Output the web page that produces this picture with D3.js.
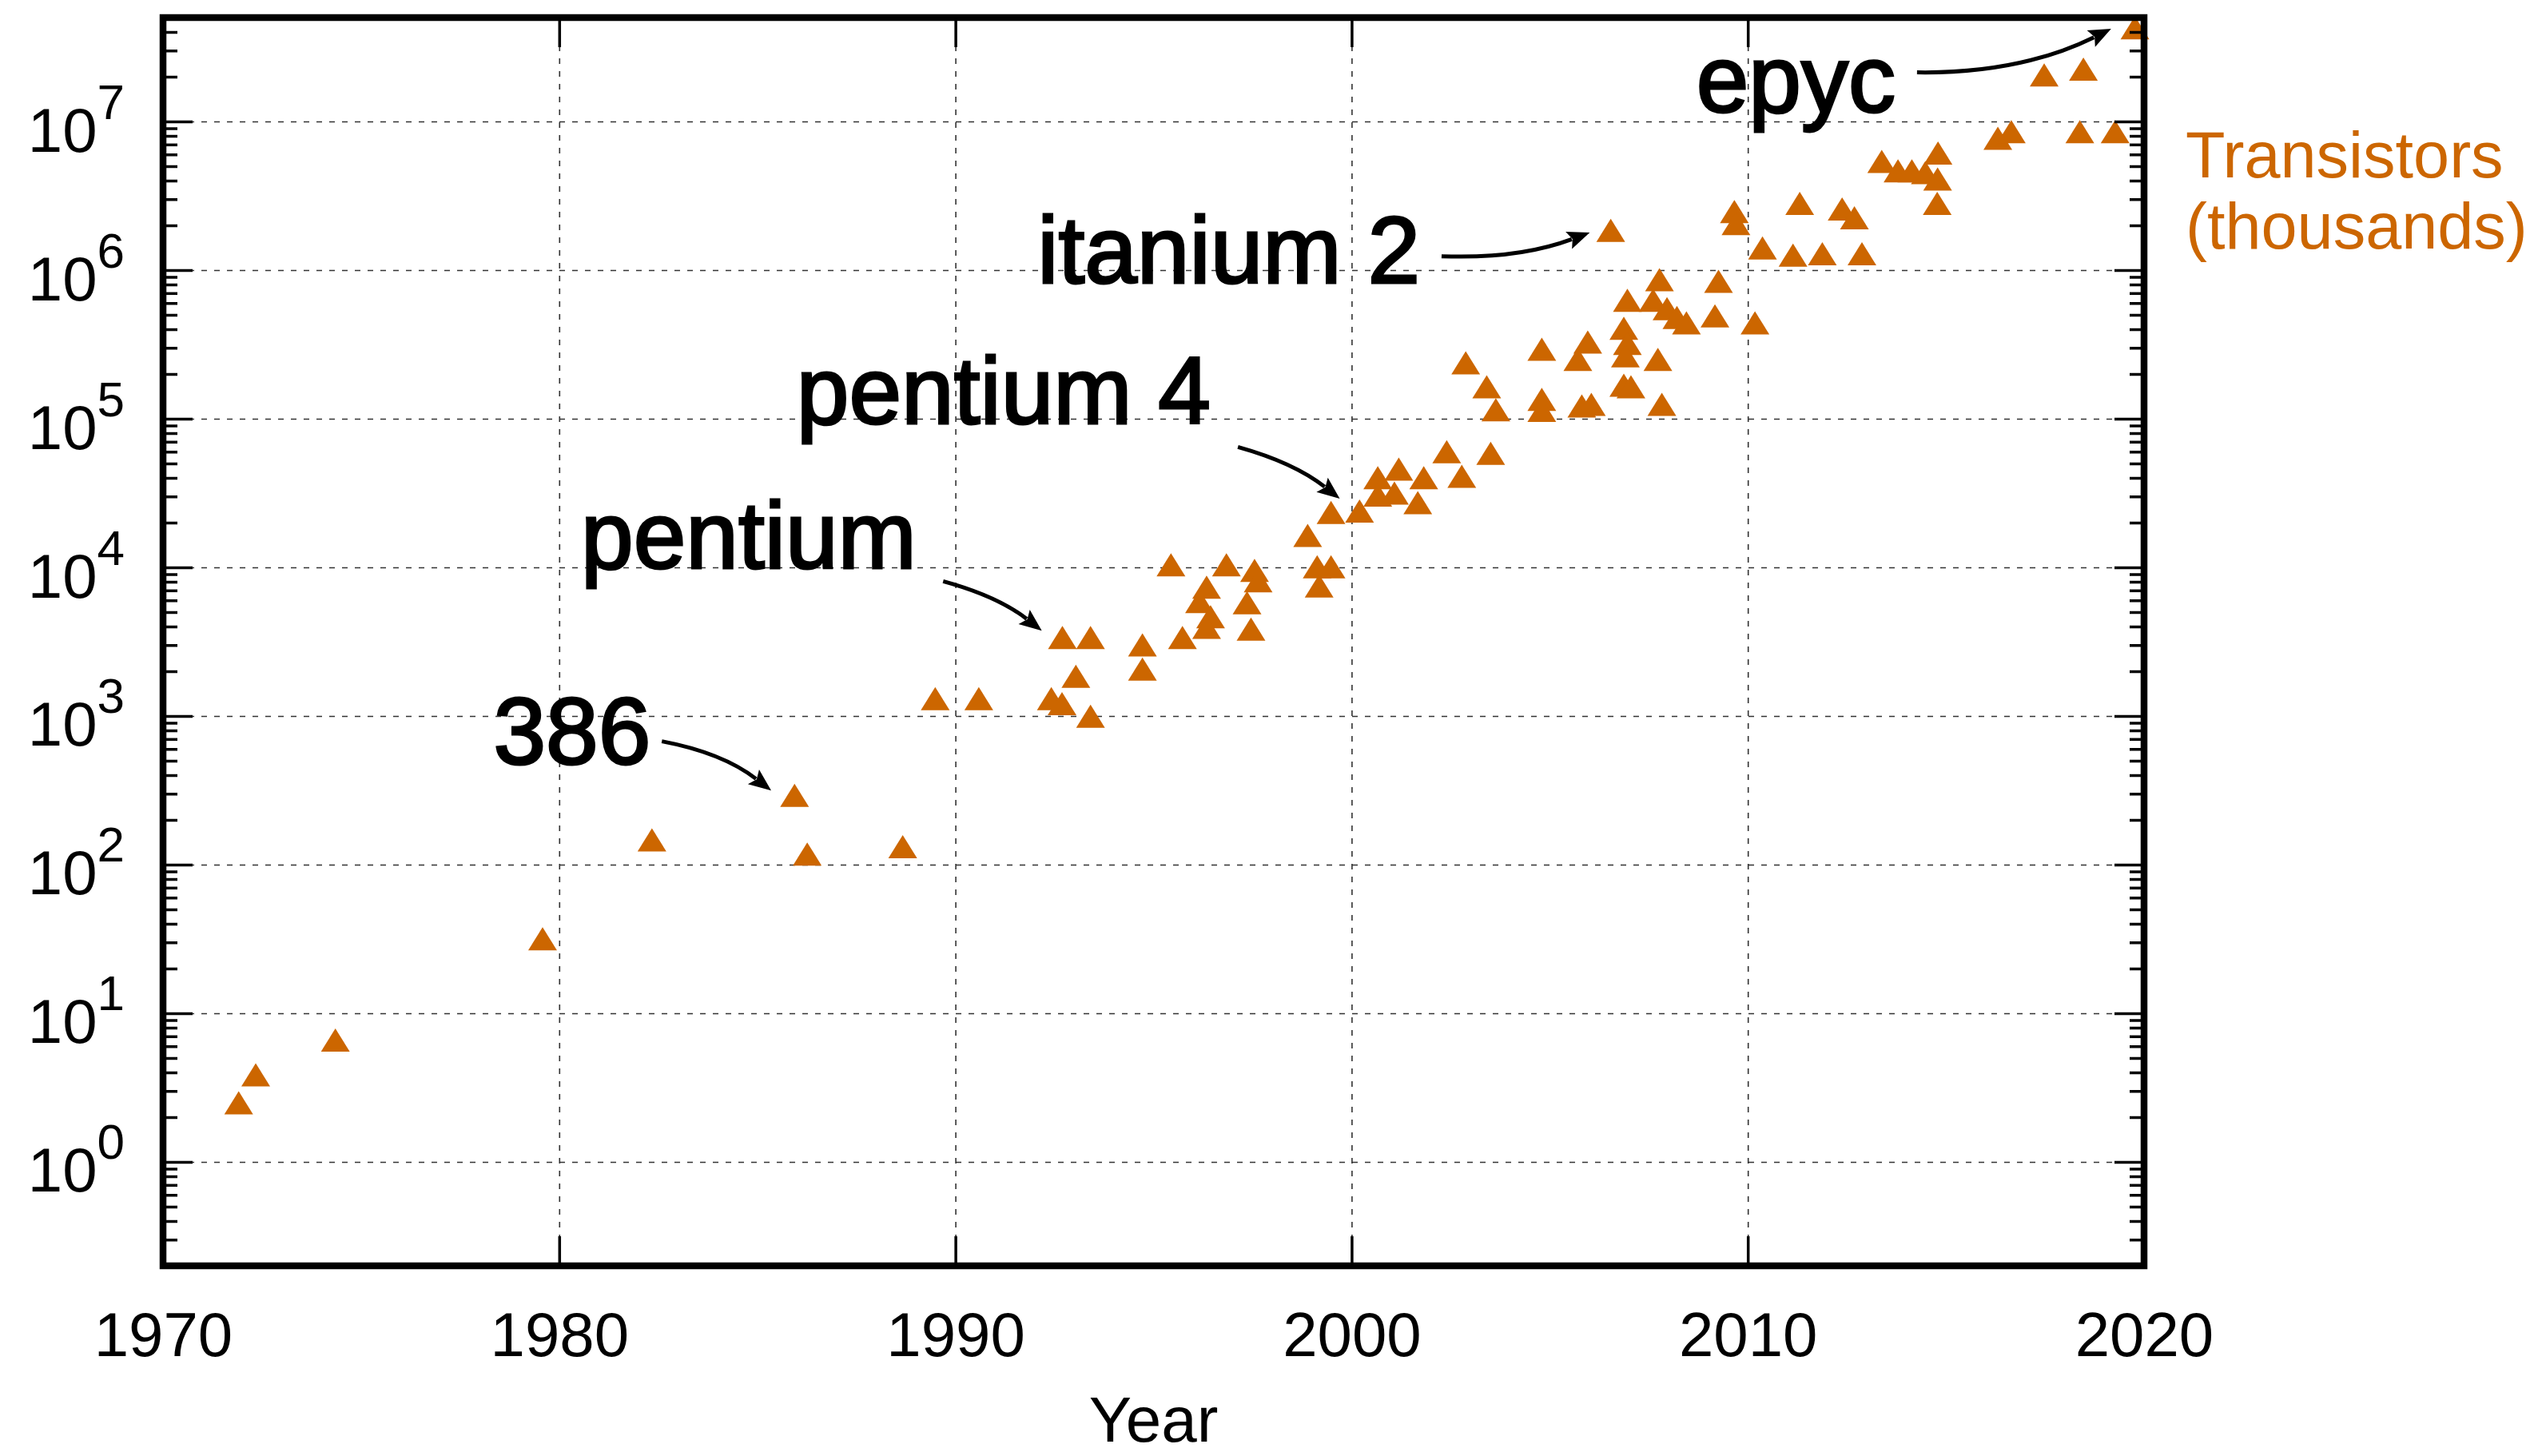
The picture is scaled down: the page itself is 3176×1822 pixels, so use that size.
<!DOCTYPE html>
<html>
<head>
<meta charset="utf-8">
<script src="https://cdn.jsdelivr.net/npm/d3@7"></script>
<style>
body { margin:0; background:#fff; }
svg { display:block; background:#fff; }
text { font-family:"Liberation Sans", Arial, Helvetica, sans-serif; }
.axis path, .grid path { display:none; }
.axis line { stroke:#000; stroke-width:3.5; }
.axis text { fill:#000; font-size:78px; font-family:"Liberation Sans", Arial, Helvetica, sans-serif; }
.grid line { stroke:#333; stroke-width:1.6; stroke-dasharray:7,9; }
.note { font-size:118px; fill:#000; stroke:#000; stroke-width:3; }
.side { font-size:81px; fill:#cc6600; }
.title-x { font-size:80px; fill:#000; }
</style>
</head>
<body>
<div id="chart"></div>
<script>
// year of release and transistor count (thousands)
const years = [1971.91, 1972.34, 1974.35, 1979.58, 1982.34, 1985.94, 1986.26, 1988.67,
  1989.49, 1990.59, 1992.42, 1992.69, 1993.04, 1992.70, 1993.41, 1993.41,
  1994.72, 1994.72, 1995.73, 1995.44, 1996.34, 1996.16, 1996.44, 1996.34,
  1996.84, 1997.55, 1997.64, 1997.36, 1997.46, 1998.89, 1999.13, 1999.48,
  1999.18, 1999.48, 2000.20, 2000.66, 2000.66, 2001.08, 2001.19, 2001.82,
  2001.67, 2002.40, 2002.78, 2003.51, 2002.88, 2003.41, 2003.64, 2004.80,
  2004.80, 2004.80, 2005.96, 2005.71, 2005.81, 2006.05, 2006.54, 2006.87,
  2006.96, 2006.91, 2006.96, 2006.87, 2007.05, 2007.61, 2007.77, 2007.96,
  2008.21, 2008.45, 2007.73, 2007.83, 2009.26, 2009.17, 2009.66, 2009.70,
  2010.18, 2010.37, 2011.14, 2011.31, 2011.88, 2012.38, 2012.69, 2012.88,
  2013.38, 2013.79, 2014.14, 2014.48, 2014.80, 2014.79, 2014.78, 2016.31,
  2016.65, 2017.48, 2018.47, 2018.38, 2019.27, 2019.77];
const transistors = [2.5, 3.85, 6.6, 31.7, 147, 293, 118, 132,
  1310, 1310, 1310, 1210, 1850, 3370, 3370, 998,
  3010, 2070, 3370, 10400, 7350, 5890, 4650, 3950,
  10400, 9550, 8130, 5790, 3840, 16400, 10100, 10100,
  7500, 23400, 23900, 40100, 30700, 31600, 45900, 40100,
  27300, 60000, 41000, 58500, 238000, 164000, 115000, 294000,
  135000, 114000, 328000, 251000, 122000, 125000, 1850000, 406000,
  321000, 265000, 627000, 168000, 164000, 627000, 861000, 550000,
  480000, 442000, 251000, 125000, 840000, 492000, 2480000, 2060000,
  442000, 1410000, 1260000, 2810000, 1290000, 2580000, 2250000, 1290000,
  5380000, 4650000, 4650000, 4530000, 6140000, 4100000, 2810000, 7710000,
  8550000, 20600000, 22500000, 8550000, 8550000, 42700000];

const xTicks = [1970, 1980, 1990, 2000, 2010, 2020];
const yTicks = [1, 10, 100, 1e3, 1e4, 1e5, 1e6, 1e7];

// labelled chips: text origin and arrow ends in data units
const noteLabels = ["386", "pentium", "pentium 4", "itanium 2", "epyc"];
const noteText = [[1978.34, 475], [1980.55, 9880], [1985.99, 93000], [1992.07, 817000], [2008.70, 11600000]];
const noteFrom = [[1982.59, 676], [1989.69, 8070], [1997.13, 64600], [2002.27, 1240000], [2014.27, 21400000]];
const noteTo = [[1985.35, 315], [1992.18, 3750], [1999.70, 29000], [2006.01, 1790000], [2019.17, 42000000]];
const noteBend = [0.12, 0.1, 0.1, -0.1, -0.12];

const seriesLabel = ["Transistors", "(thousands)"];

const W = 3176, H = 1822;
const mLeft = 204, mRight = 2683, mTop = 22, mBottom = 1584;
const orange = "#cc6600";

const x = d3.scaleLinear().domain([1970, 2020]).range([mLeft, mRight]);
const y = d3.scaleLog().domain([0.2, 5e7]).range([mBottom, mTop]);

const svg = d3.select("#chart").append("svg")
  .attr("width", W).attr("height", H);

// grid
svg.append("g").attr("class", "grid")
  .attr("transform", "translate(" + mLeft + ",0)")
  .call(d3.axisLeft(y).tickValues(yTicks).tickSize(-(mRight - mLeft)).tickFormat(""));
svg.append("g").attr("class", "grid")
  .attr("transform", "translate(0," + mBottom + ")")
  .call(d3.axisBottom(x).tickValues(xTicks.slice(1, -1)).tickSize(-(mBottom - mTop)).tickFormat(""));

// points
const tri = "M0,-14.5L18,14.5L-18,14.5Z";
svg.append("g").selectAll("path").data(years).enter().append("path")
  .attr("d", tri)
  .attr("fill", orange)
  .attr("transform", (d, i) => "translate(" + x(d) + "," + y(transistors[i]) + ")");

// ticks
const minors = y.ticks().filter(v => Math.abs(Math.log10(v) - Math.round(Math.log10(v))) > 1e-6);

const xAxis = svg.append("g").attr("class", "axis")
  .attr("transform", "translate(0," + mBottom + ")")
  .call(d3.axisBottom(x).tickValues(xTicks).tickSize(-37).tickPadding(113).tickFormat(d3.format("d")));
xAxis.selectAll(".tick text").attr("dy", 0);

svg.append("g").attr("class", "axis")
  .attr("transform", "translate(0," + mTop + ")")
  .call(d3.axisTop(x).tickValues(xTicks).tickSize(-37).tickFormat(""));

const yAxis = svg.append("g").attr("class", "axis")
  .attr("transform", "translate(" + mLeft + ",0)")
  .call(d3.axisLeft(y).tickValues(yTicks).tickSize(-37).tickPadding(48).tickFormat(() => ""));
yAxis.selectAll(".tick text").attr("dy", 37).each(function(d) {
  const t = d3.select(this);
  t.append("tspan").text("10");
  t.append("tspan").attr("dy", -41).attr("font-size", 62).text(Math.round(Math.log10(d)));
});
svg.append("g").attr("class", "axis")
  .attr("transform", "translate(" + mLeft + ",0)")
  .call(d3.axisLeft(y).tickValues(minors).tickSize(-18).tickFormat(""));
svg.append("g").attr("class", "axis")
  .attr("transform", "translate(" + mRight + ",0)")
  .call(d3.axisRight(y).tickValues(yTicks).tickSize(-37).tickFormat(""));
svg.append("g").attr("class", "axis")
  .attr("transform", "translate(" + mRight + ",0)")
  .call(d3.axisRight(y).tickValues(minors).tickSize(-18).tickFormat(""));

// frame
svg.append("rect")
  .attr("x", mLeft).attr("y", mTop)
  .attr("width", mRight - mLeft).attr("height", mBottom - mTop)
  .attr("fill", "none").attr("stroke", "#000").attr("stroke-width", 8.5);

// axis title
svg.append("text").attr("class", "title-x")
  .attr("x", (mLeft + mRight) / 2).attr("y", 1804)
  .attr("text-anchor", "middle").text("Year");

// series label on the right
svg.append("g").selectAll("text").data(seriesLabel).enter().append("text")
  .attr("class", "side")
  .attr("x", x(2021.05))
  .attr("y", (d, i) => i === 0 ? y(4.23e6) : y(1.39e6))
  .text(d => d);

// annotations
const notes = svg.append("g");
noteLabels.forEach((lab, i) => {
  notes.append("text").attr("class", "note")
    .attr("x", x(noteText[i][0])).attr("y", y(noteText[i][1]))
    .text(lab);

  const s = [x(noteFrom[i][0]), y(noteFrom[i][1])];
  const e = [x(noteTo[i][0]), y(noteTo[i][1])];
  const dx = e[0] - s[0], dy = e[1] - s[1], len = Math.hypot(dx, dy);
  const c = [(s[0] + e[0]) / 2 + dy / len * noteBend[i] * len,
             (s[1] + e[1]) / 2 - dx / len * noteBend[i] * len];
  const tl = Math.hypot(e[0] - c[0], e[1] - c[1]);
  const ux = (e[0] - c[0]) / tl, uy = (e[1] - c[1]) / tl;
  const head = 28, half = 11.5;
  const b = [e[0] - ux * head, e[1] - uy * head];

  const p = d3.path();
  p.moveTo(s[0], s[1]);
  p.quadraticCurveTo(c[0], c[1], b[0] + ux * 4, b[1] + uy * 4);
  notes.append("path").attr("d", p.toString())
    .attr("fill", "none").attr("stroke", "#000").attr("stroke-width", 5);

  notes.append("path")
    .attr("d", "M" + e[0] + "," + e[1] +
      "L" + (b[0] - uy * half) + "," + (b[1] + ux * half) +
      "L" + (b[0] + ux * 5) + "," + (b[1] + uy * 5) +
      "L" + (b[0] + uy * half) + "," + (b[1] - ux * half) + "Z")
    .attr("fill", "#000");
});
</script>
</body>
</html>
